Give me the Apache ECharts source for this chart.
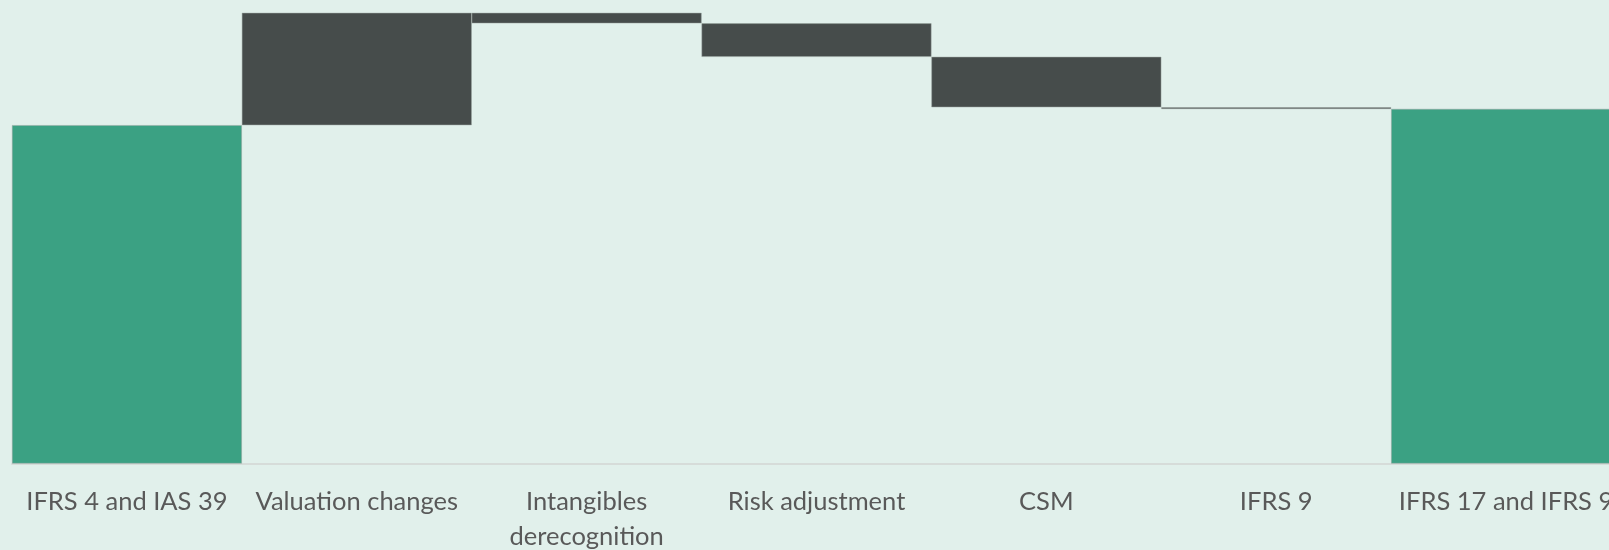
<!DOCTYPE html>
<html>
<head>
<meta charset="utf-8">
<script src="https://cdn.jsdelivr.net/npm/echarts@6/dist/echarts.min.js"></script>
<style>
  html, body { margin: 0; padding: 0; background: #e1f0eb; }
  #chart { width: 1609px; height: 550px; }
</style>
</head>
<body>
<div id="chart"></div>
<script>
const categories = ['IFRS 4 and IAS 39', 'Valuation changes', 'Intangibles\nderecognition', 'Risk adjustment', 'CSM', 'IFRS 9', 'IFRS 17 and IFRS 9']
// null = total bar, numbers = change against the running total
const openingTotal = 100
const changes = [null, 33.2, -3.1, -9.9, -14.9, -0.5, null]
const closingTotal = 104.8

const baseValues = []
const shownValues = []
const barColors = []
let running = openingTotal
for (let i = 0; i < categories.length; i++) {
  if (i === 0) {
    baseValues.push(0)
    shownValues.push(openingTotal)
    barColors.push('#3ba183')
  } else if (i === categories.length - 1) {
    baseValues.push(0)
    shownValues.push(closingTotal)
    barColors.push('#3ba183')
  } else {
    const d = changes[i]
    baseValues.push(d >= 0 ? running : running + d)
    shownValues.push(Math.abs(d))
    barColors.push('#464c4b')
    running += d
  }
}

const chart = echarts.init(document.getElementById('chart'))
chart.setOption({
  backgroundColor: '#e1f0eb',
  animation: false,
  grid: { left: 12, width: 1609, top: 0, height: 463.5, outerBoundsMode: 'none', containLabel: false },
  xAxis: {
    type: 'category',
    data: categories,
    axisTick: { show: false },
    axisLine: { lineStyle: { color: '#d6dcd9', width: 2 } },
    axisLabel: {
      interval: 0,
      margin: 21,
      color: '#595959',
      fontFamily: 'Lato',
      fontSize: 25.5,
      lineHeight: 35
    }
  },
  yAxis: {
    type: 'value',
    min: 0,
    max: 137,
    show: false,
    splitLine: { show: false }
  },
  series: [
    {
      type: 'bar',
      stack: 'wf',
      data: baseValues,
      itemStyle: { color: 'transparent' },
      barCategoryGap: '0%',
      silent: true
    },
    {
      type: 'bar',
      stack: 'wf',
      data: shownValues.map((v, i) => ({ value: v, itemStyle: { color: barColors[i] } })),
      itemStyle: { borderColor: '#9aa5a1', borderWidth: 0.5 },
      barCategoryGap: '0%'
    }
  ]
})
window.onresize = () => { chart.resize() }
</script>
</body>
</html>
